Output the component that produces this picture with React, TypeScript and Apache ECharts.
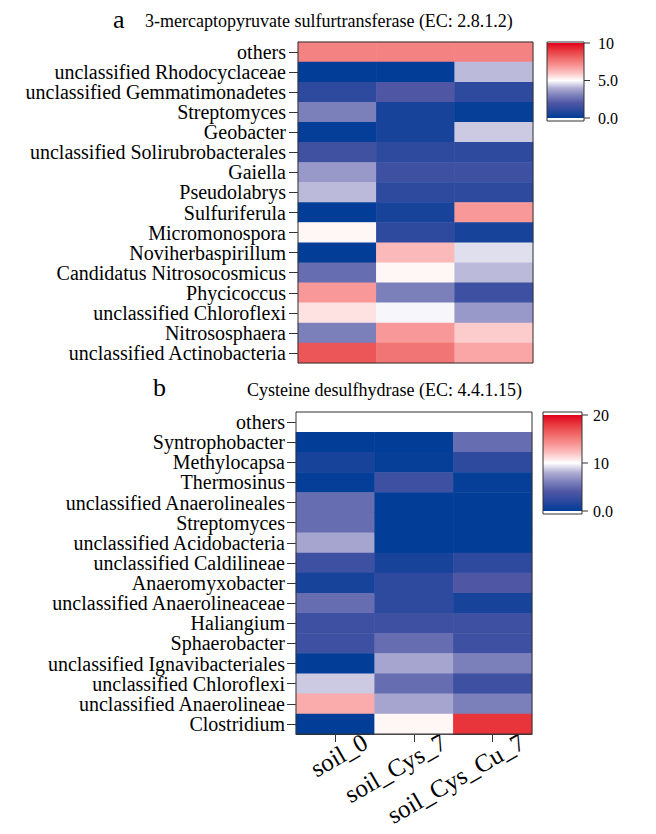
import React, { useEffect, useRef } from 'react';
import * as echarts from 'echarts';

const samples = ['soil_0', 'soil_Cys_7', 'soil_Cys_Cu_7'];

const taxaA = [
  'others',
  'unclassified Rhodocyclaceae',
  'unclassified Gemmatimonadetes',
  'Streptomyces',
  'Geobacter',
  'unclassified Solirubrobacterales',
  'Gaiella',
  'Pseudolabrys',
  'Sulfuriferula',
  'Micromonospora',
  'Noviherbaspirillum',
  'Candidatus Nitrosocosmicus',
  'Phycicoccus',
  'unclassified Chloroflexi',
  'Nitrososphaera',
  'unclassified Actinobacteria',
];
const soil0A = [7.4, 0.05, 1.1, 3.0, 0.1, 1.6, 3.55, 4.15, 0.05, 5.15, 0.05, 2.55, 6.9, 5.5, 3.0, 8.4];
const cys7A = [7.4, 0.05, 2.0, 0.55, 0.55, 1.1, 1.5, 1.1, 0.55, 1.1, 6.2, 5.15, 3.0, 4.9, 6.9, 7.7];
const cu7A = [7.4, 4.15, 1.1, 0.15, 4.35, 1.1, 1.5, 1.1, 6.9, 0.55, 4.6, 4.15, 1.5, 3.55, 5.85, 6.6];

const taxaB = [
  'others',
  'Syntrophobacter',
  'Methylocapsa',
  'Thermosinus',
  'unclassified Anaerolineales',
  'Streptomyces',
  'unclassified Acidobacteria',
  'unclassified Caldilineae',
  'Anaeromyxobacter',
  'unclassified Anaerolineaceae',
  'Haliangium',
  'Sphaerobacter',
  'unclassified Ignavibacteriales',
  'unclassified Chloroflexi',
  'unclassified Anaerolineae',
  'Clostridium',
];
const soil0B = [10, 0.1, 1.1, 0.2, 5.1, 5.1, 7.6, 3.0, 1.1, 5.1, 3.0, 3.0, 0.1, 8.7, 13.0, 0.1];
const cys7B = [10, 0.1, 0.3, 3.0, 0.1, 0.1, 0.1, 1.1, 2.2, 2.2, 3.1, 5.1, 7.6, 5.1, 7.6, 10.3];
const cu7B = [10, 5.1, 2.2, 0.3, 0.1, 0.1, 0.1, 2.2, 4.0, 1.1, 3.0, 3.0, 6.0, 3.0, 6.0, 18.2];

const rangeA = [0, 10];
const rangeB = [0, 20];
const tickLabelsA = ['10', '5.0', '0.0'];
const tickLabelsB = ['20', '10', '0.0'];

const palette = [
  '#003D97', '#2A489E', '#4F57A5', '#7B7FBA', '#B0AED4', '#FFFFFF',
  '#FCC3C3', '#F89393', '#F06868', '#E83A3F', '#E3001B',
];

const FONT = 'Liberation Serif';

function cells(cols: number[][]) {
  const out: number[][] = [];
  cols.forEach((col, j) => col.forEach((v, i) => out.push([j, i, v])));
  return out;
}

const GA = { left: 298, top: 42, width: 235, height: 321 };
const GB = { left: 296, top: 412, width: 236, height: 322 };

function colorBar(x: number, y: number, w: number, h: number, padTop: number, padBot: number, labels: string[], labelX: number) {
  const stops = palette.map((c, i) => ({ offset: i / (palette.length - 1), color: palette[palette.length - 1 - i] }));
  const inner = { x: x, y: y + padTop, w: w, h: h - padTop - padBot };
  const els: any[] = [
    { type: 'rect', shape: { x, y, width: w, height: h }, style: { fill: '#fff' }, z: 5 },
    {
      type: 'rect',
      shape: { x: inner.x, y: inner.y, width: inner.w, height: inner.h },
      style: { fill: new echarts.graphic.LinearGradient(0, 0, 0, 1, stops) },
      z: 6,
    },
    { type: 'rect', shape: { x, y, width: w, height: h }, style: { fill: 'none', stroke: '#333', lineWidth: 1 }, z: 7 },
  ];
  labels.forEach((t, k) => {
    const ty = inner.y + (inner.h * k) / (labels.length - 1);
    els.push({ type: 'line', shape: { x1: x + w, y1: ty, x2: x + w + 6, y2: ty }, style: { stroke: '#333', lineWidth: 1 }, z: 7 });
    els.push({
      type: 'text', x: labelX, y: ty, z: 7,
      style: { text: t, fontFamily: FONT, fontSize: 16, fill: '#000', textAlign: 'left', textVerticalAlign: 'middle' },
    });
  });
  return els;
}

export default function App() {
  const ref = useRef<HTMLDivElement>(null);
  useEffect(() => {
    if (!ref.current) return;
    const chart = echarts.init(ref.current, undefined, { renderer: 'svg' });
    const yAxisBase = (gridIndex: number, data: string[], margin: number) => ({
      type: 'category', gridIndex, data, inverse: true,
      axisLine: { show: true, lineStyle: { color: '#333', width: 1 } },
      axisTick: { show: true, alignWithLabel: true, length: 9, lineStyle: { color: '#333' } },
      axisLabel: { interval: 0, fontFamily: FONT, fontSize: 20, color: '#000', margin },
      splitLine: { show: false },
    });
    const option: any = {
      animation: false,
      backgroundColor: '#fff',
      grid: [
        { left: GA.left, top: GA.top, width: GA.width, height: GA.height, outerBoundsMode: 'none', containLabel: false },
        { left: GB.left, top: GB.top, width: GB.width, height: GB.height, outerBoundsMode: 'none', containLabel: false },
      ],
      xAxis: [
        { type: 'category', gridIndex: 0, data: samples, show: false },
        {
          type: 'category', gridIndex: 1, data: samples,
          axisLine: { show: true, lineStyle: { color: '#333', width: 1 } },
          axisTick: { show: true, alignWithLabel: true, length: 8, lineStyle: { color: '#333' } },
          axisLabel: {
            interval: 0, rotate: 30, fontFamily: FONT, fontSize: 25, color: '#000',
            align: 'right', verticalAlign: 'top', lineHeight: 120, margin: -46,
          },
          splitLine: { show: false },
        },
      ],
      yAxis: [yAxisBase(0, taxaA, 12), yAxisBase(1, taxaB, 11)],
      visualMap: [
        { type: 'continuous', show: false, seriesIndex: 0, dimension: 2, min: rangeA[0], max: rangeA[1], inRange: { color: palette } },
        { type: 'continuous', show: false, seriesIndex: 1, dimension: 2, min: rangeB[0], max: rangeB[1], inRange: { color: palette } },
      ],
      series: [
        { type: 'heatmap', xAxisIndex: 0, yAxisIndex: 0, data: cells([soil0A, cys7A, cu7A]) },
        { type: 'heatmap', xAxisIndex: 1, yAxisIndex: 1, data: cells([soil0B, cys7B, cu7B]) },
      ],
      graphic: [
        { type: 'rect', shape: { x: GA.left, y: GA.top, width: GA.width, height: GA.height }, style: { fill: 'none', stroke: '#333', lineWidth: 1 }, z: 10 },
        { type: 'rect', shape: { x: GB.left, y: GB.top, width: GB.width, height: GB.height }, style: { fill: 'none', stroke: '#333', lineWidth: 1 }, z: 10 },
        { type: 'text', x: 113, y: 19, style: { text: 'a', fontFamily: FONT, fontSize: 26, fill: '#000', textAlign: 'left', textVerticalAlign: 'middle' } },
        { type: 'text', x: 145, y: 21, style: { text: '3-mercaptopyruvate sulfurtransferase (EC: 2.8.1.2)', fontFamily: FONT, fontSize: 18, fill: '#000', textAlign: 'left', textVerticalAlign: 'middle' } },
        { type: 'text', x: 153, y: 387, style: { text: 'b', fontFamily: FONT, fontSize: 26, fill: '#000', textAlign: 'left', textVerticalAlign: 'middle' } },
        { type: 'text', x: 247, y: 390, style: { text: 'Cysteine desulfhydrase (EC: 4.4.1.15)', fontFamily: FONT, fontSize: 18, fill: '#000', textAlign: 'left', textVerticalAlign: 'middle' } },
        ...colorBar(547, 42, 37, 79, 1, 3, tickLabelsA, 598),
        ...colorBar(543, 412, 39, 102, 3, 3, tickLabelsB, 593),
      ],
    };
    chart.setOption(option);
    return () => chart.dispose();
  }, []);
  return <div ref={ref} style={{ position: 'fixed', left: 0, top: 0, width: 656, height: 834 }} />;
}
